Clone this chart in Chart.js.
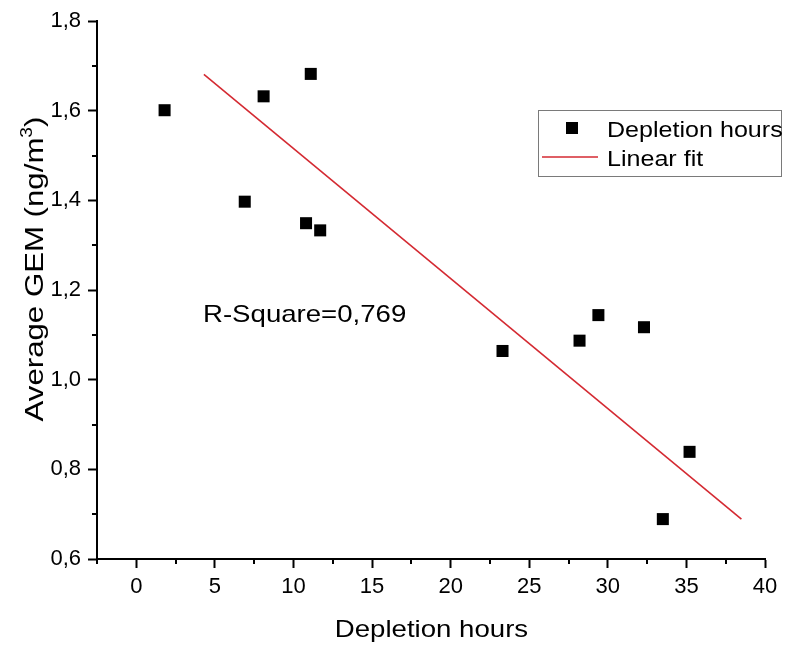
<!DOCTYPE html>
<html>
<head>
<meta charset="utf-8">
<script src="https://cdn.jsdelivr.net/npm/chart.js@4.4.1/dist/chart.umd.min.js"></script>
<style>
  html, body { margin: 0; padding: 0; background: #fff; }
  #chart { display: block; }
</style>
</head>
<body>
<canvas id="chart" width="787" height="648"></canvas>
<script>
// measured points (depletion hours vs average GEM)
const hours = [1.8, 6.9, 8.1, 11.1, 10.8, 11.7, 23.3, 28.2, 29.4, 32.3, 35.2, 33.5];
const gem = [1.601, 1.397, 1.632, 1.682, 1.349, 1.333, 1.064, 1.087, 1.144, 1.117, 0.839, 0.689];

// end points of the linear fit
const fitHours = [4.3, 38.5];
const fitGem = [1.681, 0.689];

const xTicks = [0, 5, 10, 15, 20, 25, 30, 35, 40];
const xTickLabels = ['0', '5', '10', '15', '20', '25', '30', '35', '40'];
const xMinorTicks = [-2.5, 2.5, 7.5, 12.5, 17.5, 22.5, 27.5, 32.5, 37.5];
const yTicks = [0.6, 0.8, 1.0, 1.2, 1.4, 1.6, 1.8];
const yTickLabels = ['0,6', '0,8', '1,0', '1,2', '1,4', '1,6', '1,8'];
const yMinorTicks = [0.7, 0.9, 1.1, 1.3, 1.5, 1.7];

const FONT = '"Liberation Sans", Arial, sans-serif';
const RED = '#d42a32';

// text drawn a little wider than the plain font, like the original figure
function wideText(ctx, text, x, y, size, stretch, align) {
  ctx.save();
  ctx.font = size + 'px ' + FONT;
  ctx.fillStyle = '#000';
  ctx.textBaseline = 'alphabetic';
  ctx.textAlign = 'left';
  const w = ctx.measureText(text).width * stretch;
  let x0 = x;
  if (align === 'center') x0 = x - w / 2;
  ctx.translate(x0, y);
  ctx.scale(stretch, 1);
  ctx.fillText(text, 0, 0);
  ctx.restore();
}

const extras = {
  id: 'extras',
  afterDraw(chart) {
    const ctx = chart.ctx;
    const xs = chart.scales.x;
    const ys = chart.scales.y;
    const area = chart.chartArea;

    // minor ticks
    ctx.save();
    ctx.strokeStyle = '#000';
    ctx.lineWidth = 2;
    ctx.beginPath();
    xMinorTicks.forEach(v => {
      const px = Math.round(xs.getPixelForValue(v));
      ctx.moveTo(px, area.bottom);
      ctx.lineTo(px, area.bottom + 5);
    });
    yMinorTicks.forEach(v => {
      const py = Math.round(ys.getPixelForValue(v));
      ctx.moveTo(area.left - 5, py);
      ctx.lineTo(area.left, py);
    });
    ctx.stroke();
    ctx.restore();

    // axis titles
    wideText(ctx, 'Depletion hours', 431.5, 637, 24, 1.15, 'center');

    ctx.save();
    ctx.translate(43, 269);
    ctx.rotate(-Math.PI / 2);
    const s = 1.2;
    ctx.font = '26px ' + FONT;
    const main = 'Average GEM (ng/m';
    const wMain = ctx.measureText(main).width;
    ctx.font = '16px ' + FONT;
    const wSup = ctx.measureText('3').width;
    ctx.font = '26px ' + FONT;
    const wEnd = ctx.measureText(')').width;
    const total = (wMain + wSup + wEnd) * s;
    ctx.translate(-total / 2, 0);
    ctx.scale(s, 1);
    ctx.fillStyle = '#000';
    ctx.textBaseline = 'alphabetic';
    ctx.fillText(main, 0, 0);
    ctx.font = '16px ' + FONT;
    ctx.fillText('3', wMain, -11);
    ctx.font = '26px ' + FONT;
    ctx.fillText(')', wMain + wSup, 0);
    ctx.restore();

    // annotation
    wideText(ctx, 'R-Square=0,769', 203, 322, 24, 1.15, 'left');

    // legend
    ctx.save();
    ctx.strokeStyle = '#7a7a7a';
    ctx.lineWidth = 1;
    ctx.strokeRect(538.5, 110.5, 243, 66);
    ctx.fillStyle = '#000';
    ctx.fillRect(566, 122, 12, 12);
    ctx.strokeStyle = RED;
    ctx.lineWidth = 1.6;
    ctx.beginPath();
    ctx.moveTo(542, 157);
    ctx.lineTo(598, 157);
    ctx.stroke();
    ctx.restore();
    wideText(ctx, 'Depletion hours', 607, 136.5, 22, 1.14, 'left');
    wideText(ctx, 'Linear fit', 607, 165.5, 22, 1.14, 'left');
  }
};

new Chart(document.getElementById('chart'), {
  type: 'scatter',
  data: {
    datasets: [
      {
        label: 'Depletion hours',
        data: hours.map((h, i) => ({ x: h, y: gem[i] })),
        pointStyle: 'rect',
        pointRadius: 8.5,
        pointHoverRadius: 8.5,
        backgroundColor: '#000',
        borderWidth: 0,
      },
      {
        type: 'line',
        label: 'Linear fit',
        data: fitHours.map((h, i) => ({ x: h, y: fitGem[i] })),
        borderColor: RED,
        borderWidth: 1.6,
        pointRadius: 0,
        fill: false,
        tension: 0,
      },
    ],
  },
  options: {
    responsive: false,
    animation: false,
    events: [],
    layout: { padding: { top: 21, right: 22, left: 0, bottom: 0 } },
    plugins: {
      legend: { display: false },
      tooltip: { enabled: false },
    },
    scales: {
      x: {
        type: 'linear',
        min: -2.5,
        max: 40,
        afterBuildTicks: s => { s.ticks = xTicks.map(v => ({ value: v })); },
        afterFit: s => { s.height = 89; },
        ticks: {
          color: '#000',
          font: { family: FONT, size: 22 },
          padding: 6,
          maxRotation: 0,
          autoSkip: false,
          callback: (v, i) => xTickLabels[i],
        },
        grid: {
          drawOnChartArea: false,
          drawTicks: true,
          tickLength: 9,
          tickColor: '#000',
          tickWidth: 2,
        },
        border: { display: true, color: '#000', width: 2 },
      },
      y: {
        type: 'linear',
        min: 0.6,
        max: 1.8,
        afterBuildTicks: s => { s.ticks = yTicks.map(v => ({ value: v })); },
        afterFit: s => { s.width = 97; },
        ticks: {
          color: '#000',
          font: { family: FONT, size: 22 },
          padding: 7,
          autoSkip: false,
          callback: (v, i) => yTickLabels[i],
        },
        grid: {
          drawOnChartArea: false,
          drawTicks: true,
          tickLength: 9,
          tickColor: '#000',
          tickWidth: 2,
        },
        border: { display: true, color: '#000', width: 2 },
      },
    },
  },
  plugins: [extras],
});
</script>
</body>
</html>
